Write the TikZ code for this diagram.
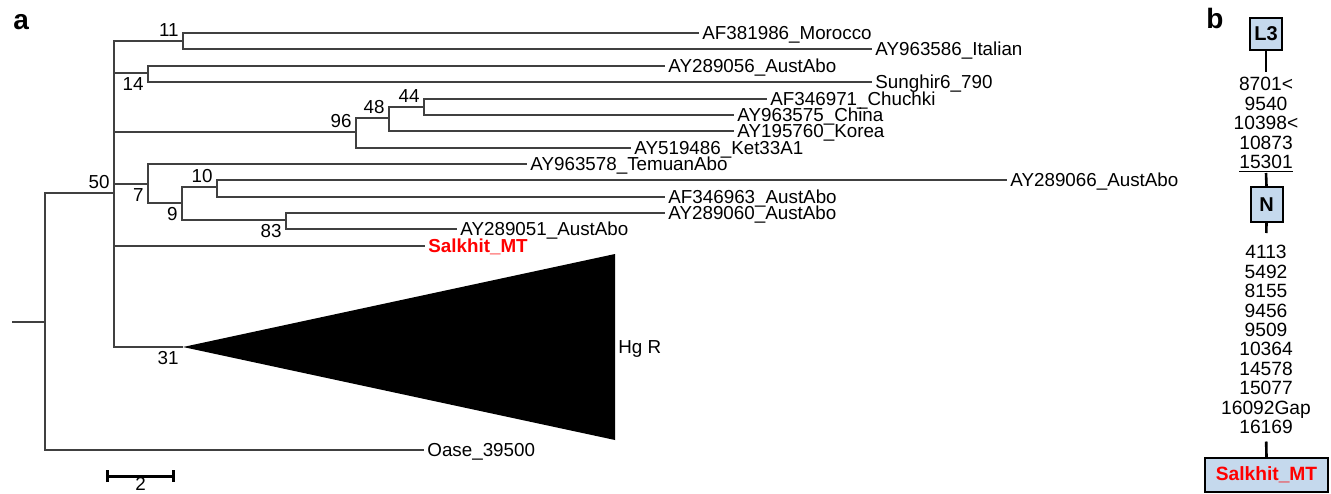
\documentclass[tikz,border=0pt]{standalone}
\usepackage{fontspec}
\setmainfont{Liberation Sans}
\usepackage{tikz}
\usetikzlibrary{arrows.meta,positioning}
\definecolor{hapfill}{HTML}{C5D9ED}

\begin{document}
\begin{tikzpicture}[
    x=0.5pt, y=-0.5pt,
    font=\fontsize{9.4}{9.7}\selectfont,
    branch/.style={draw=black!75, line width=0.6pt},
    tip/.style={anchor=west, inner sep=1.5pt, text height=6.7pt, text depth=0pt},
    supp/.style={inner sep=2pt, text height=6.7pt, text depth=0pt},
    panel/.style={anchor=base west, inner sep=0pt, font=\fontsize{14}{16}\selectfont\bfseries},
    hap/.style={draw, line width=1pt, fill=hapfill, minimum width=16pt, minimum height=16pt, inner sep=0pt, font=\fontsize{10}{11}\selectfont\bfseries},
    muts/.style={align=center, inner sep=0pt, anchor=north, font=\fontsize{9.6}{9.7}\selectfont},
    link/.style={line width=1.3pt}
]
\useasboundingbox (0,0) rectangle (1331,493);

\node[panel] (pa) at (13,29) {a};
\node[panel] (pb) at (1206,28) {b};

\coordinate (stub) at (12,322);
\coordinate (root) at (45,322);
\coordinate (n50) at (114,193);
\coordinate (n11) at (183,41);
\coordinate (n14) at (148,73);
\coordinate (n96) at (356,132);
\coordinate (n48) at (389,118);
\coordinate (n44) at (424,107);
\coordinate (n7) at (148,184);
\coordinate (n9) at (182,203);
\coordinate (n10) at (217,187);
\coordinate (n83) at (286,220);
\coordinate (hgr) at (183,347);
\coordinate (hgtop) at (615,254);
\coordinate (hgbot) at (615,440);

\node[tip] (morocco) at (699,33) {AF381986\_Morocco};
\node[tip] (italian) at (872,49) {AY963586\_Italian};
\node[tip] (aus056) at (665,66) {AY289056\_AustAbo};
\node[tip] (sunghir) at (872,82) {Sunghir6\_790};
\node[tip] (chuchki) at (767,99) {AF346971\_Chuchki};
\node[tip] (china) at (734,115) {AY963575\_China};
\node[tip] (korea) at (734,131) {AY195760\_Korea};
\node[tip] (ket) at (631,148) {AY519486\_Ket33A1};
\node[tip] (temuan) at (527,164) {AY963578\_TemuanAbo};
\node[tip] (aus066) at (1007,180) {AY289066\_AustAbo};
\node[tip] (aus963) at (665,197) {AF346963\_AustAbo};
\node[tip] (aus060) at (665,213) {AY289060\_AustAbo};
\node[tip] (aus051) at (457,229) {AY289051\_AustAbo};
\node[tip, text=red, font=\fontsize{9.4}{9.7}\selectfont\bfseries] (salk) at (425,246) {Salkhit\_MT};
\node[tip] (hgrlab) at (615,347) {Hg R};
\node[tip] (oase) at (424,450) {Oase\_39500};

\draw[branch] (stub) -- (root);
\draw[branch] (root) |- (n50);
\draw[branch] (root) |- (oase.west);
\draw[branch] (n50) |- (n11);
\draw[branch] (n50) |- (n14);
\draw[branch] (n50) |- (n96);
\draw[branch] (n50) |- (n7);
\draw[branch] (n50) |- (salk.west);
\draw[branch] (n50) |- (hgr);
\draw[branch] (n11) |- (morocco.west);
\draw[branch] (n11) |- (italian.west);
\draw[branch] (n14) |- (aus056.west);
\draw[branch] (n14) |- (sunghir.west);
\draw[branch] (n96) |- (n48);
\draw[branch] (n96) |- (ket.west);
\draw[branch] (n48) |- (n44);
\draw[branch] (n48) |- (korea.west);
\draw[branch] (n44) |- (chuchki.west);
\draw[branch] (n44) |- (china.west);
\draw[branch] (n7) |- (temuan.west);
\draw[branch] (n7) |- (n9);
\draw[branch] (n9) |- (n10);
\draw[branch] (n9) |- (n83);
\draw[branch] (n10) |- (aus066.west);
\draw[branch] (n10) |- (aus963.west);
\draw[branch] (n83) |- (aus060.west);
\draw[branch] (n83) |- (aus051.west);
\fill (hgr) -- (hgtop) -- (hgbot) -- cycle;

\node[supp, above left] (s50) at (n50) {50};
\node[supp, above left] (s11) at (n11) {11};
\node[supp, below left] (s14) at (n14) {14};
\node[supp, above left] (s96) at (n96) {96};
\node[supp, above left] (s48) at (n48) {48};
\node[supp, above left] (s44) at (n44) {44};
\node[supp, below left] (s7) at (n7) {7};
\node[supp, below left] (s9) at (n9) {9};
\node[supp, above left] (s10) at (n10) {10};
\node[supp, below left] (s83) at (n83) {83};
\node[supp, below left] (s31) at (hgr) {31};

\coordinate (sbl) at (106,476);
\coordinate (sbr) at (175,476);
\draw[line width=1.5pt, {Bar[width=6pt]}-{Bar[width=6pt]}] (sbl) -- (sbr);
\node[anchor=north, inner sep=0pt] (sblab) at (140.5,477) {2};

\node[hap] (l3) at (1266,34) {L3};
\node[muts] (mutsa) at (1266,77) {8701<\\9540\\10398<\\10873\\\underline{15301}};
\node[hap, minimum height=17.5pt] (nhap) at (1266.5,204.5) {N};
\node[muts] (mutsb) at (1266,245) {4113\\5492\\8155\\9456\\9509\\10364\\14578\\15077\\16092Gap\\16169};
\node[hap, minimum width=61.5pt, minimum height=17pt, text=red, font=\fontsize{9.6}{10}\selectfont\bfseries] (salkhap) at (1266.5,475) {Salkhit\_MT};

\draw[link, shorten >=2.5pt] (l3.south) -- (mutsa.north);
\draw[link] (mutsa.south) -- (nhap.north);
\draw[link, shorten >=6pt] (nhap.south) -- (mutsb.north);
\draw[link, shorten <=3.75pt] (mutsb.south) -- (salkhap.north);
\end{tikzpicture}
\end{document}
